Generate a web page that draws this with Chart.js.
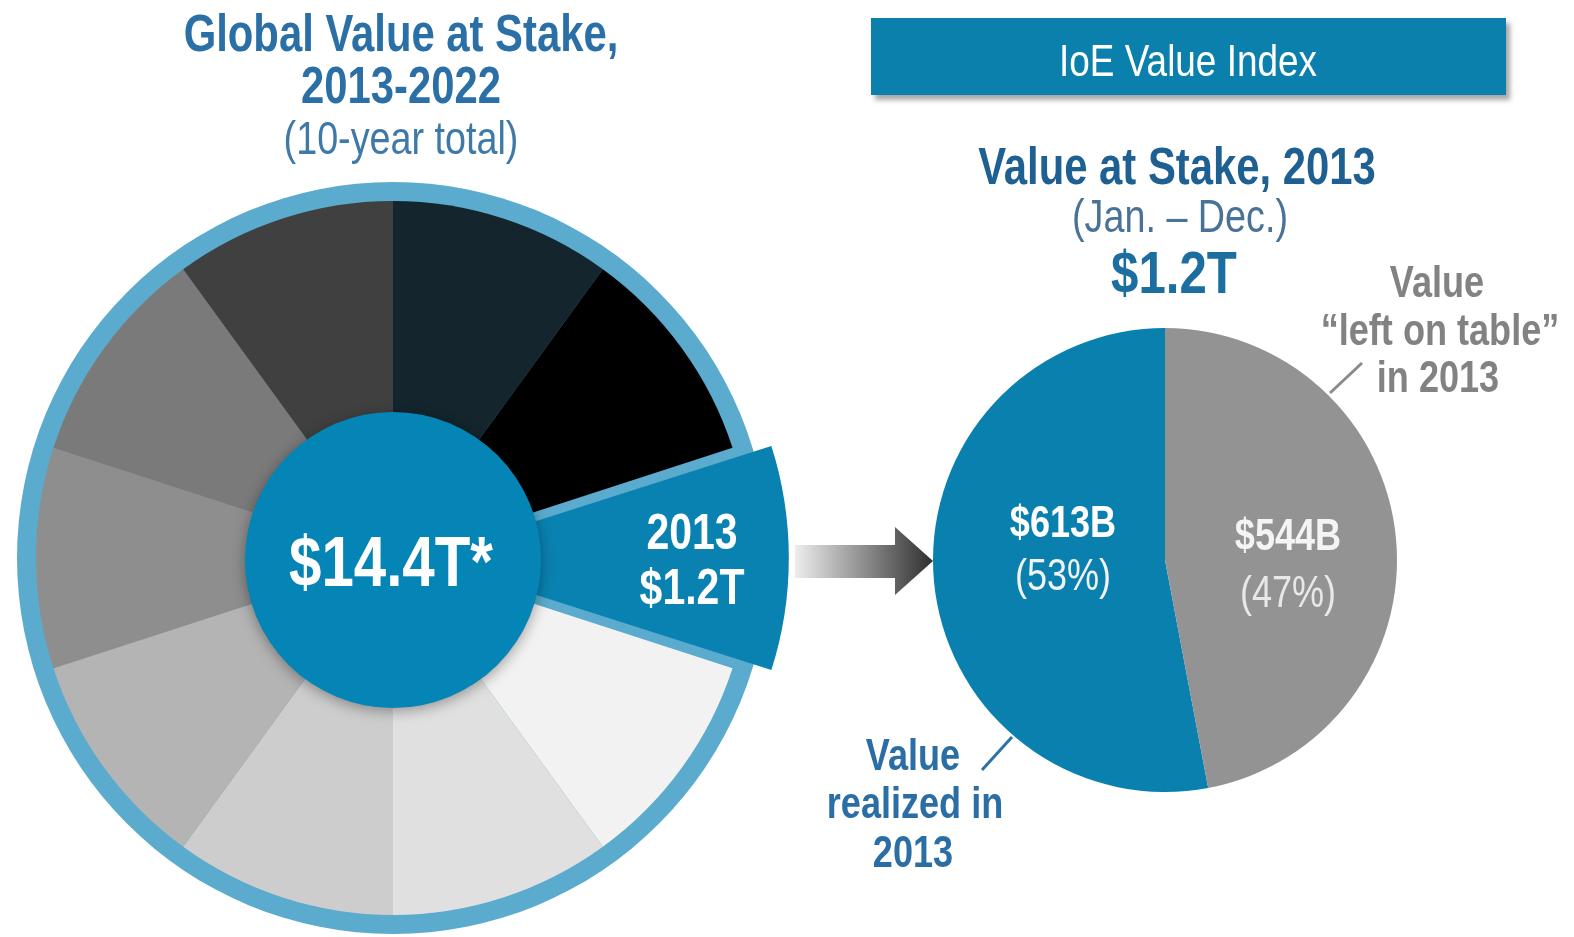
<!DOCTYPE html>
<html>
<head>
<meta charset="utf-8">
<script src="https://cdn.jsdelivr.net/npm/chart.js@4/dist/chart.umd.min.js"></script>
<style>
  html, body { margin: 0; padding: 0; width: 1574px; height: 937px; overflow: hidden; background: #fff; }
  body { position: relative; font-family: 'Liberation Sans', Arial, sans-serif; }
  canvas, svg { position: absolute; }
  /* the source uses a narrow face; squeeze the installed one to match */
  .t { position: absolute; white-space: nowrap; transform: translate(-50%, -50%) scaleX(0.82); line-height: 1; z-index: 5; }
  .b { font-weight: bold; }
  .box { position: absolute; left: 871px; top: 18px; width: 635px; height: 77px; background: #0b80ad;
         box-shadow: 4px 5px 5px rgba(0, 0, 0, 0.35); }
</style>
</head>
<body>

<canvas id="yearsChart" width="800" height="800" style="left:0;top:158px"></canvas>
<canvas id="splitChart" width="500" height="500" style="left:915px;top:310px"></canvas>

<svg width="1574" height="937" style="left:0;top:0">
  <defs>
    <linearGradient id="arrowFill" x1="793" y1="0" x2="933" y2="0" gradientUnits="userSpaceOnUse">
      <stop offset="0" stop-color="#f0f0f0"/>
      <stop offset="1" stop-color="#2e2e2e"/>
    </linearGradient>
  </defs>
  <rect x="795" y="545" width="102" height="33" fill="url(#arrowFill)"/>
  <polygon points="895,527 933,561 895,595" fill="url(#arrowFill)"/>
  <line x1="1362" y1="363" x2="1330" y2="393" stroke="#8a8a8a" stroke-width="3"/>
  <line x1="1012" y1="737" x2="982" y2="770" stroke="#2a72a8" stroke-width="3"/>
</svg>

<div class="box"></div>

<div id="labels"></div>

<script>
// ten-year wheel (2013-2022), each year shown as an equal tenth
const years = ['2013', '2014', '2015', '2016', '2017', '2018', '2019', '2020', '2021', '2022'];
const yearShares = [1, 1, 1, 1, 1, 1, 1, 1, 1, 1];
const yearColors = ['#0a82b1', '#f2f2f2', '#e0e0e0', '#cdcdcd', '#b4b4b4',
                    '#8e8e8e', '#7a7a7a', '#404040', '#14252d', '#000000'];
const totalLabel = '$14.4T*';
const highlightYear = '2013';
const highlightValue = '$1.2T';

// 2013 split, $B
const splitLabels = ['Value realized in 2013', 'Value "left on table" in 2013'];
const splitValues = [613, 544];
const splitPercents = [53, 47];
const splitColors = ['#0a80af', '#939393'];

const BLUE = '#0585b5';
const RING = '#5aabcd';

// light blue disc under the wheel, shows as the rim and the gaps beside 2013
const discUnder = {
  id: 'discUnder',
  beforeDatasetsDraw(chart) {
    const arc = chart.getDatasetMeta(0).data[0];
    const ctx = chart.ctx;
    ctx.save();
    ctx.beginPath();
    ctx.arc(arc.x, arc.y, 376, 0, Math.PI * 2);
    ctx.fillStyle = RING;
    ctx.fill();
    ctx.restore();
  }
};

// blue hub in the middle of the wheel
const hub = {
  id: 'hub',
  afterDatasetsDraw(chart) {
    const arc = chart.getDatasetMeta(0).data[0];
    const ctx = chart.ctx;
    ctx.save();
    ctx.shadowColor = 'rgba(0,0,0,0.35)';
    ctx.shadowBlur = 14;
    ctx.shadowOffsetY = 3;
    ctx.beginPath();
    ctx.arc(arc.x, arc.y + 2, 148, 0, Math.PI * 2);
    ctx.fillStyle = BLUE;
    ctx.fill();
    ctx.restore();
  }
};

new Chart(document.getElementById('yearsChart'), {
  type: 'pie',
  data: {
    labels: years,
    datasets: [{
      data: yearShares,
      backgroundColor: yearColors,
      borderWidth: 0,
      offset: years.map(y => (y === highlightYear ? 110 : 0)),
      clip: false
    }]
  },
  options: {
    responsive: false,
    animation: false,
    rotation: 72,
    radius: 357,
    layout: { padding: { right: 14 } },
    plugins: { legend: { display: false }, tooltip: { enabled: false } }
  },
  plugins: [discUnder, hub]
});

const splitTotal = splitValues.reduce((a, b) => a + b, 0);
new Chart(document.getElementById('splitChart'), {
  type: 'pie',
  data: {
    labels: splitLabels,
    datasets: [{
      data: splitValues,
      backgroundColor: splitColors,
      borderWidth: 0,
      clip: false
    }]
  },
  options: {
    responsive: false,
    animation: false,
    rotation: 360 * splitValues[1] / splitTotal,
    radius: 232,
    plugins: { legend: { display: false }, tooltip: { enabled: false } }
  }
});

// text
const texts = [
  ['Global Value at Stake,', 401, 33, 51, true, '#2a70a7'],
  ['2013-2022', 401, 85, 51, true, '#2a70a7'],
  ['(10-year total)', 401, 138, 46, false, '#3f79a8'],
  ['IoE Value Index', 1188, 60, 45, false, '#ffffff'],
  ['Value at Stake, 2013', 1177, 166, 51, true, '#1f6092'],
  ['(Jan. \u2013 Dec.)', 1180, 216, 46, false, '#4a7297'],
  [highlightValue, 1174, 273, 60, true, '#1c6ea1'],
  ['Value', 1437, 282, 44, true, '#828282'],
  ['\u201cleft on table\u201d', 1440, 330, 44, true, '#828282'],
  ['in 2013', 1438, 377, 44, true, '#828282'],
  ['Value', 913, 755, 44, true, '#2b6ea5'],
  ['realized in', 915, 803, 44, true, '#2b6ea5'],
  ['2013', 913, 852, 44, true, '#2b6ea5'],
  [totalLabel, 391, 561, 71, true, '#ffffff'],
  [highlightYear, 692, 532, 50, true, '#ffffff'],
  [highlightValue, 692, 587, 50, true, '#ffffff'],
  ['$' + splitValues[0] + 'B', 1063, 522, 44, true, '#ffffff'],
  ['(' + splitPercents[0] + '%)', 1063, 575, 44, false, '#f2f2f2'],
  ['$' + splitValues[1] + 'B', 1288, 535, 44, true, '#f4f4f4'],
  ['(' + splitPercents[1] + '%)', 1288, 592, 44, false, '#e8e8e8']
];
const holder = document.getElementById('labels');
texts.forEach(([s, x, y, size, bold, color]) => {
  const d = document.createElement('div');
  d.className = 't' + (bold ? ' b' : '');
  d.textContent = s;
  d.style.left = x + 'px';
  d.style.top = y + 'px';
  d.style.fontSize = size + 'px';
  d.style.color = color;
  holder.appendChild(d);
});
</script>
</body>
</html>
